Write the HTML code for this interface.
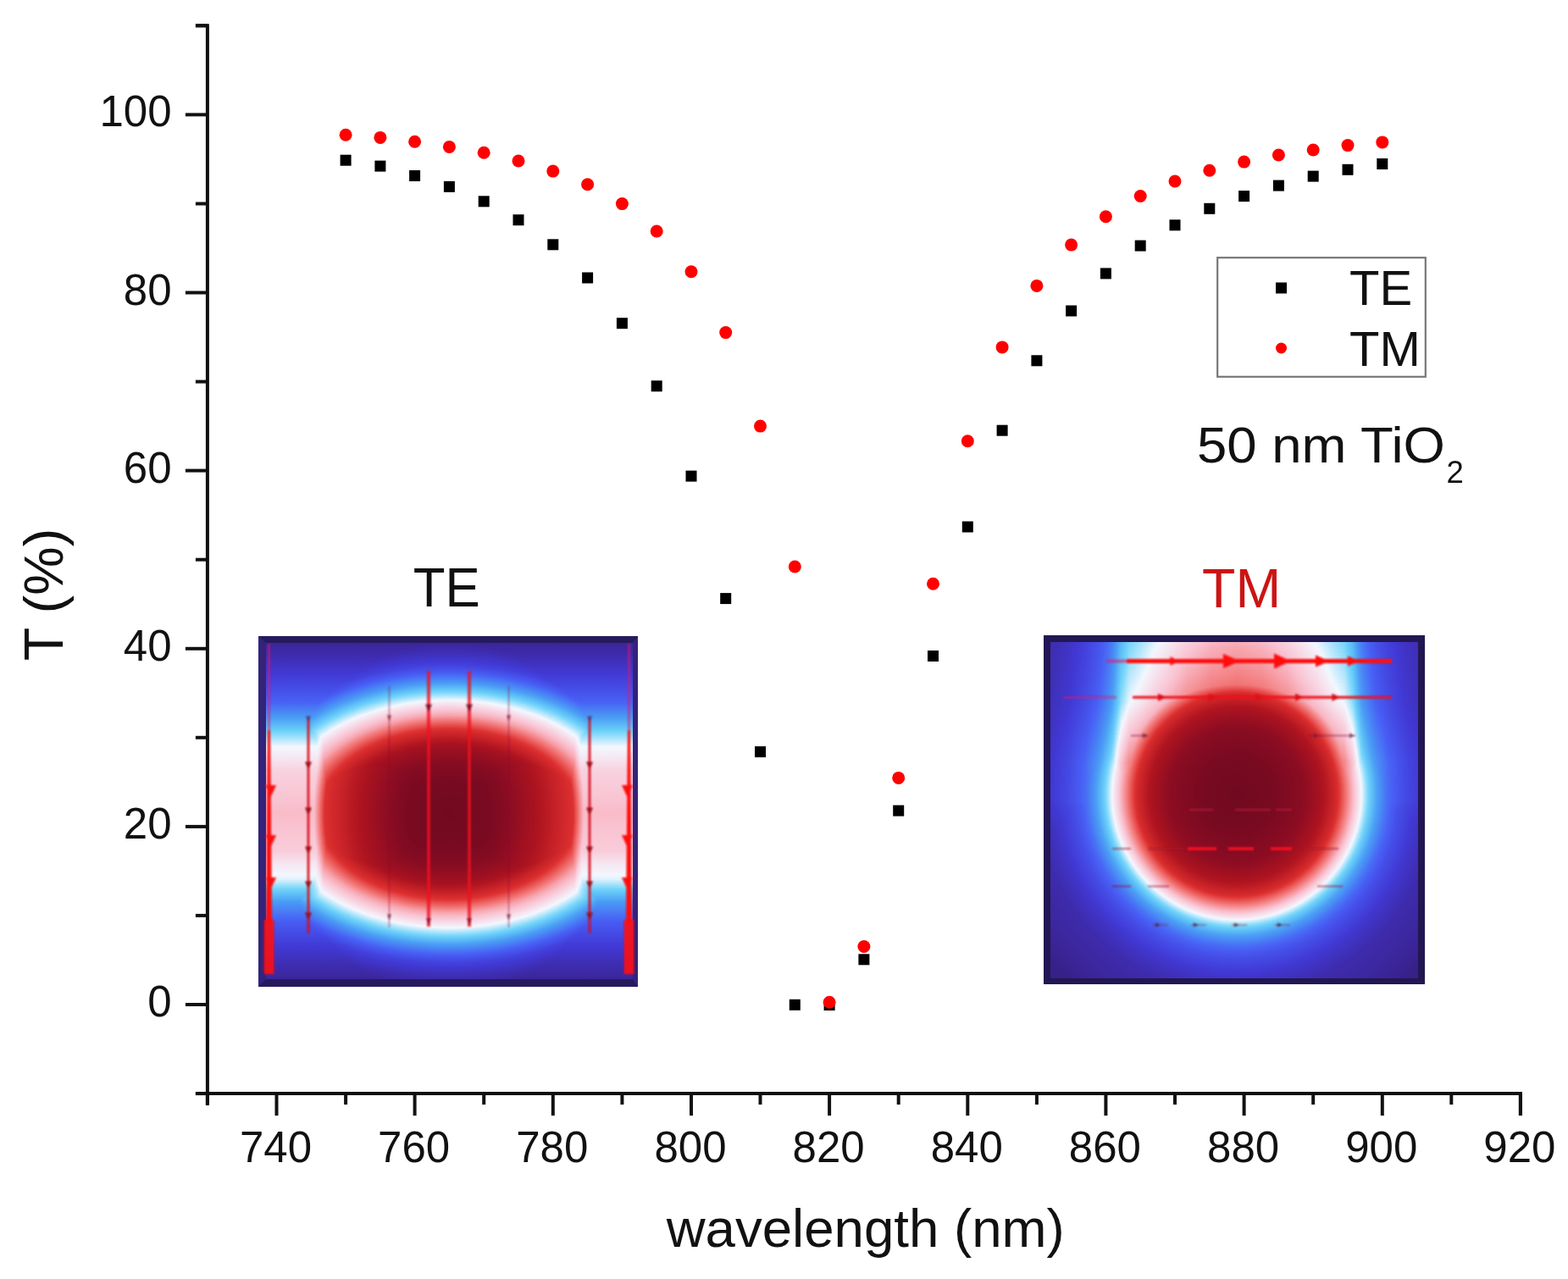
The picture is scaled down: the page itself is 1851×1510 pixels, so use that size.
<!DOCTYPE html>
<html><head><meta charset="utf-8"><title>Transmission spectra TE/TM</title>
<style>
html,body{margin:0;padding:0;background:#fff;}
body{width:1851px;height:1510px;position:relative;overflow:hidden;font-family:"Liberation Sans",Arial,sans-serif;}
.field{position:absolute;filter:url(#cmap);}
.frame{position:absolute;box-sizing:border-box;border:8px solid #261a5e;}
.frame.te{border-left:9px solid #33237a;border-right:6px solid #34227a;border-bottom-width:9px;}
.frame.tm{border-color:#221752;border-left-width:8px;border-right-width:8px;border-top-width:8px;border-bottom-width:7px;}
svg.main{position:absolute;left:0;top:0;}
</style></head><body>
<svg width="0" height="0" style="position:absolute"><filter id="cmap" color-interpolation-filters="sRGB" x="0" y="0" width="1" height="1"><feComponentTransfer><feFuncR type="table" tableValues="0.149 0.166 0.183 0.200 0.216 0.233 0.239 0.242 0.246 0.250 0.253 0.257 0.261 0.265 0.269 0.273 0.277 0.281 0.284 0.286 0.288 0.290 0.292 0.294 0.324 0.354 0.385 0.415 0.488 0.605 0.722 0.840 0.957 0.962 0.967 0.973 0.978 0.977 0.971 0.965 0.959 0.953 0.942 0.925 0.907 0.889 0.872 0.844 0.815 0.786 0.758 0.729 0.700 0.674 0.649 0.625 0.600 0.575 0.551 0.527 0.510 0.492 0.474 0.457 0.439"/><feFuncG type="table" tableValues="0.086 0.099 0.111 0.123 0.135 0.148 0.160 0.172 0.184 0.197 0.209 0.221 0.240 0.265 0.290 0.315 0.340 0.365 0.404 0.449 0.493 0.537 0.581 0.626 0.671 0.717 0.762 0.808 0.846 0.877 0.907 0.938 0.969 0.923 0.878 0.832 0.787 0.733 0.672 0.610 0.549 0.488 0.428 0.369 0.310 0.252 0.193 0.172 0.155 0.138 0.121 0.104 0.087 0.076 0.071 0.066 0.061 0.056 0.051 0.047 0.045 0.044 0.042 0.041 0.039"/><feFuncB type="table" tableValues="0.353 0.403 0.453 0.502 0.552 0.602 0.640 0.677 0.714 0.750 0.787 0.824 0.853 0.873 0.894 0.914 0.935 0.955 0.961 0.961 0.961 0.961 0.961 0.961 0.965 0.969 0.974 0.978 0.982 0.987 0.991 0.996 1.000 0.961 0.921 0.882 0.842 0.786 0.713 0.640 0.567 0.495 0.428 0.369 0.310 0.252 0.193 0.179 0.169 0.160 0.150 0.140 0.130 0.126 0.128 0.130 0.132 0.134 0.136 0.137 0.135 0.132 0.130 0.128 0.125"/></feComponentTransfer></filter></svg>
<div class="field" style="left:305px;top:751px;width:448px;height:414px;background:linear-gradient(to bottom,#0f0f0f 0.0px,#1a1a1a 19.0px,#292929 39.0px,#474747 79.0px,#5e5e5e 99.0px,#707070 115.0px,#7e7e7e 129.0px,#858585 144.0px,#8c8c8c 159.0px,#939393 209.0px,#8e8e8e 254.0px,#858585 269.0px,#7d7d7d 287.0px,#6b6b6b 301.0px,#595959 315.0px,#424242 339.0px,#2b2b2b 369.0px,#1a1a1a 394.0px,#0f0f0f 414.0px),radial-gradient(163px 205px at 225px 210px,#ffffff 0.0px,#f5f5f5 50.5px,#dbdbdb 91.3px,#c7c7c7 122.2px,#b8b8b8 146.7px,#9c9c9c 155.8px,#878787 163.0px,#757575 172.8px,#636363 188.4px,#4f4f4f 218.4px,#424242 260.8px,#333333 326.0px),radial-gradient(205px 134px at 225px 210px,#ffffff 0.0px,#f7f7f7 61.5px,#ebebeb 92.2px,#d9d9d9 123.0px,#b8b8b8 153.8px,#999999 178.3px,#8c8c8c 192.7px,#808080 205.0px,#6b6b6b 223.5px,#595959 237.8px,#454545 254.2px,#333333 268.6px,#1f1f1f 293.1px,#141414 309.6px,#0d0d0d 348.5px,#080808 451.0px);background-blend-mode:lighten,darken,normal;"></div>
<div class="field" style="left:1232px;top:750px;width:450px;height:412px;background:radial-gradient(147px 148px at 228px 188px,#ffffff 0.0px,#f7f7f7 44.1px,#e6e6e6 80.9px,#d1d1d1 102.9px,#bdbdbd 117.6px,#9e9e9e 132.3px,#808080 147.0px,#707070 154.3px,#5e5e5e 164.6px,#4c4c4c 176.4px,#3b3b3b 191.1px,#292929 213.2px,#1c1c1c 235.2px,#0f0f0f 294.0px),linear-gradient(to bottom,#949494 0.0px,#999999 15.0px,#a3a3a3 50.0px,#adadad 80.0px,#c7c7c7 120.0px,#dbdbdb 150.0px,#e0e0e0 195.0px,#999999 250.0px,#4c4c4c 300.0px,#1f1f1f 350.0px,#0f0f0f 412.0px),linear-gradient(to right,#2e2e2e 0.0px,#2e2e2e 3.0px,#404040 29.0px,#545454 49.0px,#676767 64.0px,#717171 70.0px,#7c7c7c 76.0px,#878787 81.0px,#949494 85.0px,#a8a8a8 91.0px,#bbbbbb 101.0px,#c4c4c4 113.0px,#d4d4d4 132.0px,#ededed 168.0px,#fafafa 198.0px,#ffffff 228.0px,#fafafa 258.0px,#ededed 288.0px,#d4d4d4 324.0px,#c4c4c4 343.0px,#bbbbbb 355.0px,#a8a8a8 365.0px,#949494 371.0px,#878787 375.0px,#7c7c7c 380.0px,#717171 386.0px,#676767 392.0px,#545454 407.0px,#404040 427.0px,#303030 450.0px);background-blend-mode:lighten,multiply,normal;"></div>
<div class="frame te" style="left:305px;top:751px;width:448px;height:414px"></div><div class="frame tm" style="left:1232px;top:750px;width:450px;height:412px"></div><svg class="main" width="1851" height="1510" viewBox="0 0 1851 1510">
<defs><filter id="soft" x="-5%" y="-5%" width="110%" height="110%"><feGaussianBlur stdDeviation="0.8"/></filter></defs>
<g filter="url(#soft)">
<line x1="317.5" y1="760" x2="317.5" y2="864" stroke="#e0186a" stroke-width="3" stroke-opacity="0.55"/>
<path d="M316.0 862 L319.0 862 L321.0 1090 L314.0 1090 Z" fill="#ff0a0a"/>
<path d="M313.0 927.0 L326.0 927.0 L319.5 941.0 Z" fill="#ff0a0a" fill-opacity="1.00"/>
<path d="M313.0 986.0 L326.0 986.0 L319.5 1000.0 Z" fill="#ff0a0a" fill-opacity="1.00"/>
<path d="M313.0 1036.0 L326.0 1036.0 L319.5 1050.0 Z" fill="#ff0a0a" fill-opacity="1.00"/>
<rect x="311.5" y="1086" width="12" height="64" fill="#ff0a0a" fill-opacity="0.9"/>
<line x1="364.0" y1="848" x2="364.0" y2="1102" stroke="#d8101e" stroke-width="2.6"/>
<path d="M360.0 899.5 L368.0 899.5 L364.0 908.5 Z" fill="#a00818" fill-opacity="1.00"/>
<path d="M360.0 953.5 L368.0 953.5 L364.0 962.5 Z" fill="#a00818" fill-opacity="1.00"/>
<path d="M360.0 999.5 L368.0 999.5 L364.0 1008.5 Z" fill="#a00818" fill-opacity="1.00"/>
<path d="M360.0 1040.5 L368.0 1040.5 L364.0 1049.5 Z" fill="#a00818" fill-opacity="1.00"/>
<path d="M360.0 1077.5 L368.0 1077.5 L364.0 1086.5 Z" fill="#a00818" fill-opacity="1.00"/>
<path d="M361.0 845.5 L367.0 845.5 L364.0 852.5 Z" fill="#502060" fill-opacity="0.70"/>
<line x1="506.0" y1="792" x2="506.0" y2="1094" stroke="#ee1020" stroke-width="4" stroke-opacity="0.8"/>
<path d="M502.0 831.5 L510.0 831.5 L506.0 840.5 Z" fill="#701028" fill-opacity="0.90"/>
<path d="M503.0 1084.0 L509.0 1084.0 L506.0 1092.0 Z" fill="#701028" fill-opacity="0.80"/>
<line x1="459.5" y1="810" x2="459.5" y2="1095" stroke="#901030" stroke-width="1.6" stroke-opacity="0.45"/>
<path d="M457.0 844.5 L462.0 844.5 L459.5 851.5 Z" fill="#701028" fill-opacity="0.70"/>
<path d="M457.0 1079.5 L462.0 1079.5 L459.5 1086.5 Z" fill="#701028" fill-opacity="0.70"/>
<line x1="742.5" y1="760" x2="742.5" y2="864" stroke="#e0186a" stroke-width="3" stroke-opacity="0.55"/>
<path d="M741.0 862 L744.0 862 L746.0 1090 L739.0 1090 Z" fill="#ff0a0a"/>
<path d="M734.0 927.0 L747.0 927.0 L740.5 941.0 Z" fill="#ff0a0a" fill-opacity="1.00"/>
<path d="M734.0 986.0 L747.0 986.0 L740.5 1000.0 Z" fill="#ff0a0a" fill-opacity="1.00"/>
<path d="M734.0 1036.0 L747.0 1036.0 L740.5 1050.0 Z" fill="#ff0a0a" fill-opacity="1.00"/>
<rect x="736.5" y="1086" width="12" height="64" fill="#ff0a0a" fill-opacity="0.9"/>
<line x1="696.0" y1="848" x2="696.0" y2="1102" stroke="#d8101e" stroke-width="2.6"/>
<path d="M692.0 899.5 L700.0 899.5 L696.0 908.5 Z" fill="#a00818" fill-opacity="1.00"/>
<path d="M692.0 953.5 L700.0 953.5 L696.0 962.5 Z" fill="#a00818" fill-opacity="1.00"/>
<path d="M692.0 999.5 L700.0 999.5 L696.0 1008.5 Z" fill="#a00818" fill-opacity="1.00"/>
<path d="M692.0 1040.5 L700.0 1040.5 L696.0 1049.5 Z" fill="#a00818" fill-opacity="1.00"/>
<path d="M692.0 1077.5 L700.0 1077.5 L696.0 1086.5 Z" fill="#a00818" fill-opacity="1.00"/>
<path d="M693.0 845.5 L699.0 845.5 L696.0 852.5 Z" fill="#502060" fill-opacity="0.70"/>
<line x1="554.0" y1="792" x2="554.0" y2="1094" stroke="#ee1020" stroke-width="4" stroke-opacity="0.8"/>
<path d="M550.0 831.5 L558.0 831.5 L554.0 840.5 Z" fill="#701028" fill-opacity="0.90"/>
<path d="M551.0 1084.0 L557.0 1084.0 L554.0 1092.0 Z" fill="#701028" fill-opacity="0.80"/>
<line x1="600.5" y1="810" x2="600.5" y2="1095" stroke="#901030" stroke-width="1.6" stroke-opacity="0.45"/>
<path d="M598.0 844.5 L603.0 844.5 L600.5 851.5 Z" fill="#701028" fill-opacity="0.70"/>
<path d="M598.0 1079.5 L603.0 1079.5 L600.5 1086.5 Z" fill="#701028" fill-opacity="0.70"/>
<line x1="1306" y1="780.5" x2="1330" y2="780.5" stroke="#e0186a" stroke-width="4" stroke-opacity="0.6"/>
<line x1="1330" y1="780.5" x2="1643" y2="780.5" stroke="#ff1010" stroke-width="5"/>
<path d="M1381.5 775.0 L1391.5 780.5 L1381.5 786.0 Z" fill="#ff1010" fill-opacity="1.00"/>
<path d="M1444.0 772.0 L1464.0 780.5 L1444.0 789.0 Z" fill="#ff1010" fill-opacity="1.00"/>
<path d="M1504.0 771.5 L1524.0 780.5 L1504.0 789.5 Z" fill="#ff1010" fill-opacity="1.00"/>
<path d="M1553.0 773.5 L1569.0 780.5 L1553.0 787.5 Z" fill="#ff1010" fill-opacity="1.00"/>
<path d="M1591.0 774.5 L1605.0 780.5 L1591.0 786.5 Z" fill="#ff1010" fill-opacity="1.00"/>
<line x1="1255" y1="823.2" x2="1318" y2="823.2" stroke="#e0186a" stroke-width="3" stroke-opacity="0.5"/>
<line x1="1337" y1="823.2" x2="1643" y2="823.2" stroke="#f01018" stroke-width="3"/>
<path d="M1367.0 818.7 L1377.0 823.2 L1367.0 827.7 Z" fill="#e01018" fill-opacity="1.00"/>
<path d="M1426.7 818.7 L1436.7 823.2 L1426.7 827.7 Z" fill="#e01018" fill-opacity="1.00"/>
<path d="M1482.0 818.7 L1492.0 823.2 L1482.0 827.7 Z" fill="#e01018" fill-opacity="1.00"/>
<path d="M1529.0 818.7 L1539.0 823.2 L1529.0 827.7 Z" fill="#e01018" fill-opacity="1.00"/>
<path d="M1572.4 818.7 L1582.4 823.2 L1572.4 827.7 Z" fill="#e01018" fill-opacity="1.00"/>
<line x1="1335" y1="868.5" x2="1355" y2="868.5" stroke="#702040" stroke-width="1.5" stroke-opacity="0.6"/>
<line x1="1545" y1="868.5" x2="1600" y2="868.5" stroke="#702040" stroke-width="1.5" stroke-opacity="0.6"/>
<path d="M1349.0 865.5 L1355.0 868.5 L1349.0 871.5 Z" fill="#602040" fill-opacity="0.70"/>
<path d="M1551.0 865.5 L1557.0 868.5 L1551.0 871.5 Z" fill="#602040" fill-opacity="0.70"/>
<path d="M1593.0 865.5 L1599.0 868.5 L1593.0 871.5 Z" fill="#602040" fill-opacity="0.70"/>
<line x1="1404" y1="956" x2="1432" y2="956" stroke="#d02040" stroke-width="2.5" stroke-opacity="0.5"/>
<line x1="1458" y1="956" x2="1500" y2="956" stroke="#d02040" stroke-width="2.5" stroke-opacity="0.5"/>
<line x1="1506" y1="956" x2="1525" y2="956" stroke="#d02040" stroke-width="2.5" stroke-opacity="0.5"/>
<line x1="1402" y1="1002" x2="1436" y2="1002" stroke="#ff1020" stroke-width="4" stroke-opacity="0.8"/>
<line x1="1450" y1="1002" x2="1480" y2="1002" stroke="#ff1020" stroke-width="4" stroke-opacity="0.8"/>
<line x1="1500" y1="1002" x2="1525" y2="1002" stroke="#ff1020" stroke-width="4" stroke-opacity="0.8"/>
<line x1="1313" y1="1002" x2="1335" y2="1002" stroke="#a01030" stroke-width="2" stroke-opacity="0.6"/>
<line x1="1355" y1="1002" x2="1398" y2="1002" stroke="#a01030" stroke-width="2" stroke-opacity="0.6"/>
<line x1="1545" y1="1002" x2="1580" y2="1002" stroke="#a01030" stroke-width="2" stroke-opacity="0.6"/>
<line x1="1313" y1="1046.4" x2="1335" y2="1046.4" stroke="#901030" stroke-width="2" stroke-opacity="0.55"/>
<line x1="1355" y1="1046.4" x2="1380" y2="1046.4" stroke="#901030" stroke-width="2" stroke-opacity="0.55"/>
<line x1="1555" y1="1046.4" x2="1585" y2="1046.4" stroke="#901030" stroke-width="2" stroke-opacity="0.55"/>
<line x1="1361.0" y1="1092" x2="1379.0" y2="1092" stroke="#802040" stroke-width="1.5" stroke-opacity="0.5"/>
<path d="M1364.0 1089.5 L1370.0 1092.0 L1364.0 1094.5 Z" fill="#502040" fill-opacity="0.80"/>
<line x1="1406.0" y1="1092" x2="1424.0" y2="1092" stroke="#802040" stroke-width="1.5" stroke-opacity="0.5"/>
<path d="M1409.0 1089.5 L1415.0 1092.0 L1409.0 1094.5 Z" fill="#502040" fill-opacity="0.80"/>
<line x1="1454.0" y1="1092" x2="1472.0" y2="1092" stroke="#802040" stroke-width="1.5" stroke-opacity="0.5"/>
<path d="M1457.0 1089.5 L1463.0 1092.0 L1457.0 1094.5 Z" fill="#502040" fill-opacity="0.80"/>
<line x1="1505.0" y1="1092" x2="1523.0" y2="1092" stroke="#802040" stroke-width="1.5" stroke-opacity="0.5"/>
<path d="M1508.0 1089.5 L1514.0 1092.0 L1508.0 1094.5 Z" fill="#502040" fill-opacity="0.80"/>
</g>
<g stroke="#111" stroke-width="4" fill="none" stroke-linecap="butt">
<path d="M230.9 30.3 H244.9 V1305.1 H244.9"/>
<path d="M230.9 1291.1 H1794.9 V1317.1"/>
<path d="M230.9 1291.1 h14"/>
<path d="M218.9 1186.0 h26"/>
<path d="M230.9 1080.9 h14"/>
<path d="M218.9 975.9 h26"/>
<path d="M230.9 870.8 h14"/>
<path d="M218.9 765.8 h26"/>
<path d="M230.9 660.7 h14"/>
<path d="M218.9 555.6 h26"/>
<path d="M230.9 450.6 h14"/>
<path d="M218.9 345.5 h26"/>
<path d="M230.9 240.5 h14"/>
<path d="M218.9 135.4 h26"/>
<path d="M230.9 30.3 h14"/>
<path d="M244.9 1291.1 v13"/>
<path d="M326.5 1291.1 v26"/>
<path d="M408.1 1291.1 v13"/>
<path d="M489.6 1291.1 v26"/>
<path d="M571.2 1291.1 v13"/>
<path d="M652.8 1291.1 v26"/>
<path d="M734.4 1291.1 v13"/>
<path d="M816.0 1291.1 v26"/>
<path d="M897.5 1291.1 v13"/>
<path d="M979.1 1291.1 v26"/>
<path d="M1060.7 1291.1 v13"/>
<path d="M1142.3 1291.1 v26"/>
<path d="M1223.9 1291.1 v13"/>
<path d="M1305.4 1291.1 v26"/>
<path d="M1387.0 1291.1 v13"/>
<path d="M1468.6 1291.1 v26"/>
<path d="M1550.2 1291.1 v13"/>
<path d="M1631.8 1291.1 v26"/>
<path d="M1713.3 1291.1 v13"/>
<path d="M1794.9 1291.1 v26"/>
</g>
<g font-family="Liberation Sans, Arial, sans-serif" font-size="51" fill="#111">
<text x="202.5" y="1200.0" text-anchor="end">0</text>
<text x="202.5" y="989.9" text-anchor="end">20</text>
<text x="202.5" y="779.8" text-anchor="end">40</text>
<text x="202.5" y="569.6" text-anchor="end">60</text>
<text x="202.5" y="359.5" text-anchor="end">80</text>
<text x="202.5" y="149.4" text-anchor="end">100</text>
<text x="325.5" y="1371.5" text-anchor="middle">740</text>
<text x="488.6" y="1371.5" text-anchor="middle">760</text>
<text x="651.8" y="1371.5" text-anchor="middle">780</text>
<text x="815.0" y="1371.5" text-anchor="middle">800</text>
<text x="978.1" y="1371.5" text-anchor="middle">820</text>
<text x="1141.3" y="1371.5" text-anchor="middle">840</text>
<text x="1304.4" y="1371.5" text-anchor="middle">860</text>
<text x="1467.6" y="1371.5" text-anchor="middle">880</text>
<text x="1630.8" y="1371.5" text-anchor="middle">900</text>
<text x="1793.9" y="1371.5" text-anchor="middle">920</text>
</g>
<text x="1021.7" y="1471.6" font-family="Liberation Sans, Arial, sans-serif" font-size="63.6" text-anchor="middle" fill="#111">wavelength (nm)</text>
<text transform="translate(73.5 702.1) rotate(-90)" font-family="Liberation Sans, Arial, sans-serif" font-size="64.5" text-anchor="middle" fill="#111">T (%)</text>
<rect x="401.6" y="182.7" width="13" height="13" fill="#000"/>
<rect x="442.4" y="189.6" width="13" height="13" fill="#000"/>
<rect x="483.1" y="201.0" width="13" height="13" fill="#000"/>
<rect x="523.9" y="213.9" width="13" height="13" fill="#000"/>
<rect x="564.7" y="231.3" width="13" height="13" fill="#000"/>
<rect x="605.5" y="253.2" width="13" height="13" fill="#000"/>
<rect x="646.3" y="282.3" width="13" height="13" fill="#000"/>
<rect x="687.1" y="321.5" width="13" height="13" fill="#000"/>
<rect x="727.9" y="375.2" width="13" height="13" fill="#000"/>
<rect x="768.7" y="449.3" width="13" height="13" fill="#000"/>
<rect x="809.5" y="555.6" width="13" height="13" fill="#000"/>
<rect x="850.2" y="700.1" width="13" height="13" fill="#000"/>
<rect x="891.0" y="881.1" width="13" height="13" fill="#000"/>
<rect x="931.8" y="1179.8" width="13" height="13" fill="#000"/>
<rect x="972.6" y="1180.0" width="13" height="13" fill="#000"/>
<rect x="1013.4" y="1126.3" width="13" height="13" fill="#000"/>
<rect x="1054.2" y="950.6" width="13" height="13" fill="#000"/>
<rect x="1095.0" y="768.0" width="13" height="13" fill="#000"/>
<rect x="1135.8" y="615.5" width="13" height="13" fill="#000"/>
<rect x="1176.6" y="501.7" width="13" height="13" fill="#000"/>
<rect x="1217.4" y="419.3" width="13" height="13" fill="#000"/>
<rect x="1258.1" y="360.5" width="13" height="13" fill="#000"/>
<rect x="1298.9" y="316.4" width="13" height="13" fill="#000"/>
<rect x="1339.7" y="283.6" width="13" height="13" fill="#000"/>
<rect x="1380.5" y="259.3" width="13" height="13" fill="#000"/>
<rect x="1421.3" y="239.8" width="13" height="13" fill="#000"/>
<rect x="1462.1" y="225.1" width="13" height="13" fill="#000"/>
<rect x="1502.9" y="212.6" width="13" height="13" fill="#000"/>
<rect x="1543.7" y="201.6" width="13" height="13" fill="#000"/>
<rect x="1584.5" y="193.8" width="13" height="13" fill="#000"/>
<rect x="1625.3" y="187.0" width="13" height="13" fill="#000"/>
<circle cx="408.1" cy="159.2" r="7.5" fill="#f00"/>
<circle cx="448.9" cy="162.4" r="7.5" fill="#f00"/>
<circle cx="489.6" cy="167.3" r="7.5" fill="#f00"/>
<circle cx="530.4" cy="173.4" r="7.5" fill="#f00"/>
<circle cx="571.2" cy="180.2" r="7.5" fill="#f00"/>
<circle cx="612.0" cy="190.0" r="7.5" fill="#f00"/>
<circle cx="652.8" cy="202.1" r="7.5" fill="#f00"/>
<circle cx="693.6" cy="217.8" r="7.5" fill="#f00"/>
<circle cx="734.4" cy="240.6" r="7.5" fill="#f00"/>
<circle cx="775.2" cy="273.0" r="7.5" fill="#f00"/>
<circle cx="816.0" cy="320.7" r="7.5" fill="#f00"/>
<circle cx="856.7" cy="392.6" r="7.5" fill="#f00"/>
<circle cx="897.5" cy="503.1" r="7.5" fill="#f00"/>
<circle cx="938.3" cy="669.0" r="7.5" fill="#f00"/>
<circle cx="979.1" cy="1183.3" r="7.5" fill="#f00"/>
<circle cx="1019.9" cy="1117.5" r="7.5" fill="#f00"/>
<circle cx="1060.7" cy="918.4" r="7.5" fill="#f00"/>
<circle cx="1101.5" cy="689.3" r="7.5" fill="#f00"/>
<circle cx="1142.3" cy="520.7" r="7.5" fill="#f00"/>
<circle cx="1183.1" cy="409.9" r="7.5" fill="#f00"/>
<circle cx="1223.9" cy="337.4" r="7.5" fill="#f00"/>
<circle cx="1264.6" cy="289.1" r="7.5" fill="#f00"/>
<circle cx="1305.4" cy="255.7" r="7.5" fill="#f00"/>
<circle cx="1346.2" cy="231.5" r="7.5" fill="#f00"/>
<circle cx="1387.0" cy="214.0" r="7.5" fill="#f00"/>
<circle cx="1427.8" cy="201.3" r="7.5" fill="#f00"/>
<circle cx="1468.6" cy="191.1" r="7.5" fill="#f00"/>
<circle cx="1509.4" cy="183.0" r="7.5" fill="#f00"/>
<circle cx="1550.2" cy="177.0" r="7.5" fill="#f00"/>
<circle cx="1591.0" cy="171.6" r="7.5" fill="#f00"/>
<circle cx="1631.8" cy="167.9" r="7.5" fill="#f00"/>
<rect x="1437.2" y="304.2" width="245.6" height="140.6" fill="none" stroke="#777" stroke-width="2.2"/>
<rect x="1506" y="333.5" width="13" height="13" fill="#000"/>
<circle cx="1512.5" cy="411" r="6.5" fill="#f00"/>
<g font-family="Liberation Sans, Arial, sans-serif" font-size="58" fill="#111">
<text x="1593" y="359.5">TE</text><text x="1593" y="431.5">TM</text></g>
<text x="1413" y="545.5" font-family="Liberation Sans, Arial, sans-serif" font-size="60" fill="#111" textLength="293" lengthAdjust="spacingAndGlyphs">50 nm TiO</text>
<text x="1707.5" y="569.5" font-family="Liberation Sans, Arial, sans-serif" font-size="36.5" fill="#111">2</text>
<text x="527.2" y="715.5" font-family="Liberation Sans, Arial, sans-serif" font-size="64" text-anchor="middle" fill="#111" textLength="79" lengthAdjust="spacingAndGlyphs">TE</text>
<text x="1465.6" y="717.3" font-family="Liberation Sans, Arial, sans-serif" font-size="64.5" text-anchor="middle" fill="#cc1414">TM</text>
</svg>
</body></html>
